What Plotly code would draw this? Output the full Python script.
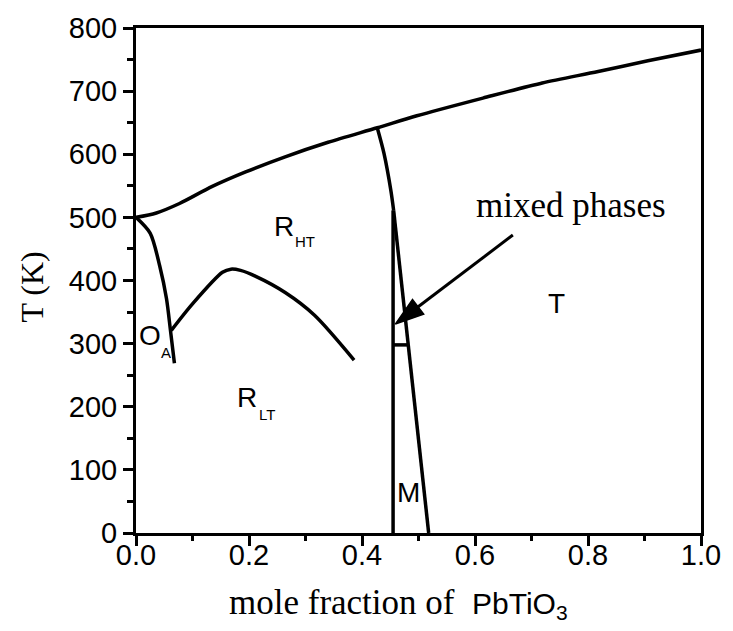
import plotly.graph_objects as go

# Upper phase boundary (paraelectric cubic above)
curie_x = [0.0, 0.036, 0.077, 0.135, 0.194, 0.264, 0.34, 0.427, 0.497, 0.614, 0.719, 0.818, 0.906, 1.0]
curie_T = [500, 507, 522, 549, 572, 596, 619, 642, 661, 689, 713, 731, 748, 765]

# O_A / rhombohedral boundary
oa_x = [0.0, 0.025, 0.042, 0.054, 0.061, 0.068]
oa_T = [500, 475, 423, 371, 321, 269]

# R_HT / R_LT boundary
rlt_x = [0.0625, 0.100, 0.153, 0.168, 0.185, 0.211, 0.264, 0.316, 0.386]
rlt_T = [321, 363, 413, 418, 416, 407, 381, 345, 274]

# Morphotropic boundary, upper curved part
mpb_x = [0.427, 0.439, 0.451, 0.456]
mpb_T = [642, 601, 543, 511]

# Monoclinic region edges
m_left_x = [0.455, 0.455]
m_left_T = [511, 0]
m_right_x = [0.456, 0.518]
m_right_T = [511, 0]
m_top_x = [0.455, 0.482]
m_top_T = [298, 298]

# Arrow pointing to the mixed-phase region (tail -> head)
arrow_x = [0.667, 0.459]
arrow_T = [472, 331]

SANS = "Liberation Sans"
SERIF = "Liberation Serif"
LW = 3.5

fig = go.Figure()

for xs, ts in [(curie_x, curie_T), (oa_x, oa_T), (rlt_x, rlt_T), (mpb_x, mpb_T)]:
    fig.add_trace(go.Scatter(x=xs, y=ts, mode="lines",
                             line=dict(color="black", width=LW, shape="spline", smoothing=0.8),
                             showlegend=False, hoverinfo="skip"))
for xs, ts in [(m_left_x, m_left_T), (m_right_x, m_right_T), (m_top_x, m_top_T)]:
    fig.add_trace(go.Scatter(x=xs, y=ts, mode="lines", line=dict(color="black", width=LW),
                             showlegend=False, hoverinfo="skip"))

fig.add_trace(go.Scatter(
    x=arrow_x, y=arrow_T, mode="lines+markers",
    line=dict(color="black", width=3),
    marker=dict(symbol="arrow", size=[0, 30], angleref="previous", color="black",
                opacity=1, line=dict(width=1.5, color="black")),
    showlegend=False, hoverinfo="skip"))

# Region labels (main letter + subscript)
labels = [
    ("R", 0.240, 486, 28), ("HT", 0.277, 461, 15),
    ("R", 0.176, 215, 28), ("LT", 0.214, 187, 15),
    ("O", 0.001, 313, 28), ("A", 0.040, 286, 15),
]
for txt, lx, ly, fs in labels:
    fig.add_annotation(x=lx, y=ly, text=txt, showarrow=False, xanchor="left", yanchor="middle",
                       font=dict(family=SANS, size=fs, color="black"))

for txt, lx, ly in [("T", 0.745, 364), ("M", 0.482, 64)]:
    fig.add_annotation(x=lx, y=ly, text=txt, showarrow=False, xanchor="center", yanchor="middle",
                       font=dict(family=SANS, size=28, color="black"))

fig.add_annotation(x=0.770, y=519, text="mixed phases", showarrow=False,
                   xanchor="center", yanchor="middle",
                   font=dict(family=SERIF, size=35, color="black"))

# Axis titles
fig.add_annotation(xref="paper", yref="paper", x=0.465, y=0, yshift=-70,
                   xanchor="center", yanchor="middle", showarrow=False,
                   text="mole fraction of  <span style='font-family:Liberation Sans;font-size:30px'>PbTiO<sub>3</sub></span>",
                   font=dict(family=SERIF, size=35, color="black"))
fig.add_annotation(xref="paper", yref="paper", x=-0.184, y=0.486, textangle=-90,
                   xanchor="center", yanchor="middle", showarrow=False,
                   text="T (K)", font=dict(family=SERIF, size=32, color="black"))

axis_common = dict(
    showline=True, linewidth=3, linecolor="black", mirror=True,
    ticks="outside", ticklen=10, tickwidth=2.5, tickcolor="black",
    showgrid=False, zeroline=False,
    tickfont=dict(family=SANS, size=29, color="black"),
)

fig.update_xaxes(
    range=[0, 1], tick0=0, dtick=0.2, tickformat=".1f", ticklabelstandoff=-16,
    minor=dict(dtick=0.1, ticks="outside", ticklen=5, tickwidth=2.5, tickcolor="black"),
    **axis_common)
fig.update_yaxes(
    range=[0, 800], tick0=0, dtick=100,
    minor=dict(dtick=50, ticks="outside", ticklen=6, tickwidth=2.5, tickcolor="black"),
    **axis_common)

fig.update_layout(
    width=733, height=631,
    margin=dict(l=136, r=26, t=23, b=98),
    plot_bgcolor="white", paper_bgcolor="white",
)

fig.write_html("out.html")
